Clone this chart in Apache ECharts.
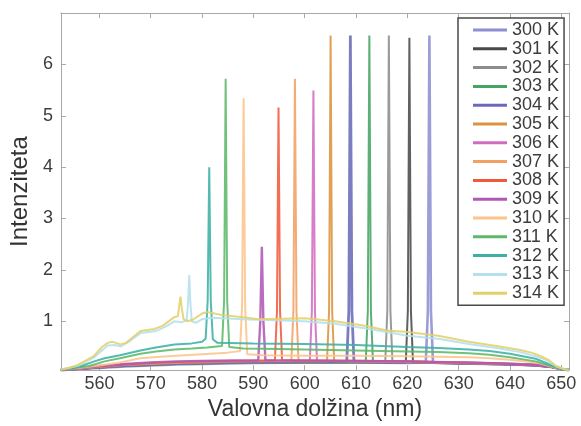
<!DOCTYPE html>
<html>
<head>
<meta charset="utf-8">
<script src="https://cdn.jsdelivr.net/npm/echarts@6/dist/echarts.min.js"></script>
<style>
html,body{margin:0;padding:0;background:#fff;}
#chart{width:581px;height:426px;}
</style>
</head>
<body>
<div id="chart"></div>
<script>
const temps = ['300 K','301 K','302 K','303 K','304 K','305 K','306 K','307 K','308 K','309 K','310 K','311 K','312 K','313 K','314 K'];
const colors = ['#8e8ed2','#4a4a4a','#8c8c8c','#46a462','#6a6ab8','#dc9440','#d06cc0','#f2a064','#f05a3c','#b158b6','#fcc48c','#5cb868','#3cb0a4','#b4e0ec','#e2d06c'];
const widths = [2.6,2,2,2,2.8,2,2,2,2,2.4,2,2,2,2,2];
const xTicks = [560,570,580,590,600,610,620,630,640,650];
const yTicks = [1,2,3,4,5,6];

const s300 = [[552.5,0.05],[556,0.07],[560,0.09],[565,0.12],[570,0.14],[575,0.16],[580,0.17],[590,0.19],[600,0.2],[610,0.2],[620,0.19],[623.6,0.2],[624.0,1.2],[624.3,6.56],[624.6,1.2],[625,0.2],[630,0.18],[635,0.17],[640,0.16],[645,0.14],[648,0.11],[650,0.07],[651.5,0.05]];
const s301 = [[552.5,0.05],[556,0.07],[560,0.1],[565,0.13],[570,0.15],[575,0.17],[580,0.18],[590,0.2],[600,0.2],[610,0.2],[619.7,0.2],[620.1,1.2],[620.4,6.52],[620.7,1.2],[621.1,0.2],[625,0.19],[630,0.18],[635,0.17],[640,0.16],[645,0.14],[648,0.11],[650,0.07],[651.5,0.05]];
const s302 = [[552.5,0.05],[556,0.08],[560,0.1],[565,0.13],[570,0.15],[575,0.17],[580,0.19],[590,0.2],[600,0.21],[610,0.2],[615.7,0.21],[616.1,1.2],[616.4,6.56],[616.7,1.2],[617.1,0.21],[620,0.2],[625,0.19],[630,0.18],[635,0.17],[640,0.16],[645,0.14],[648,0.11],[650,0.07],[651.5,0.05]];
const s303 = [[552.5,0.05],[556,0.08],[560,0.11],[565,0.14],[570,0.16],[575,0.18],[580,0.19],[590,0.21],[600,0.21],[611.9,0.21],[612.3,1.2],[612.6,6.56],[612.9,1.2],[613.3,0.22],[620,0.21],[625,0.2],[630,0.19],[635,0.18],[640,0.17],[645,0.15],[648,0.12],[650,0.07],[651.5,0.05]];
const s304 = [[552.5,0.05],[556,0.08],[560,0.11],[565,0.14],[570,0.16],[575,0.18],[580,0.2],[590,0.21],[600,0.22],[608.2,0.22],[608.6,1.2],[608.9,6.56],[609.2,1.2],[609.6,0.22],[615,0.21],[620,0.21],[625,0.2],[630,0.19],[635,0.18],[640,0.17],[645,0.15],[648,0.12],[650,0.07],[651.5,0.05]];
const s305 = [[552.5,0.05],[556,0.08],[560,0.11],[565,0.15],[570,0.17],[575,0.19],[580,0.2],[590,0.22],[600,0.22],[604.35,0.22],[604.75,1.2],[605.05,6.56],[605.35,1.2],[605.75,0.22],[610,0.22],[620,0.21],[625,0.2],[630,0.19],[635,0.18],[640,0.17],[645,0.15],[648,0.12],[650,0.07],[651.5,0.05]];
const s306 = [[552.5,0.05],[556,0.08],[560,0.12],[565,0.15],[570,0.18],[575,0.2],[580,0.21],[590,0.22],[601.0,0.23],[601.4,1.2],[601.7,5.49],[602.0,1.2],[602.4,0.23],[610,0.22],[620,0.21],[625,0.2],[630,0.19],[635,0.18],[640,0.17],[645,0.15],[648,0.12],[650,0.07],[651.5,0.05]];
const s307 = [[552.5,0.05],[556,0.08],[560,0.12],[565,0.16],[570,0.18],[575,0.2],[580,0.22],[590,0.23],[597.4,0.23],[597.8,1.2],[598.1,5.72],[598.4,1.2],[598.8,0.23],[605,0.23],[610,0.22],[620,0.22],[625,0.21],[630,0.2],[635,0.19],[640,0.17],[645,0.15],[648,0.12],[650,0.07],[651.5,0.05]];
const s308 = [[552.5,0.05],[556,0.09],[560,0.12],[565,0.16],[570,0.19],[575,0.21],[580,0.22],[590,0.23],[594.2,0.24],[594.6,1.2],[594.9,5.16],[595.2,1.2],[595.6,0.24],[600,0.23],[610,0.23],[620,0.22],[625,0.21],[630,0.2],[635,0.19],[640,0.17],[645,0.15],[648,0.12],[650,0.07],[651.5,0.05]];
const s309 = [[552.5,0.05],[556,0.09],[560,0.13],[565,0.17],[570,0.2],[575,0.22],[580,0.23],[586,0.24],[590.95,0.24],[591.35,1.0],[591.65,2.45],[591.95,1.0],[592.35,0.24],[600,0.24],[610,0.23],[620,0.22],[625,0.21],[630,0.2],[635,0.19],[640,0.17],[645,0.15],[648,0.12],[650,0.07],[651.5,0.05]];
const s310 = [[552.5,0.06],[556,0.09],[560,0.14],[564,0.2],[568,0.28],[572,0.31],[575,0.33],[580,0.36],[585,0.39],[587.4,0.42],[587.8,1.3],[588.1,5.34],[588.4,1.3],[588.8,0.36],[592,0.34],[600,0.33],[610,0.33],[620,0.32],[626,0.31],[632,0.3],[636,0.28],[640,0.25],[645,0.2],[648,0.12],[650,0.07],[651.5,0.05]];
const s311 = [[552.5,0.06],[555,0.09],[558,0.13],[561,0.22],[564,0.28],[568,0.37],[571,0.41],[574.6,0.45],[578,0.47],[581,0.49],[583.9,0.52],[584.3,1.4],[584.6,5.72],[584.9,1.4],[585.3,0.5],[588,0.47],[595,0.46],[600,0.45],[610,0.43],[620,0.41],[626,0.4],[632,0.38],[636,0.35],[640,0.3],[645,0.22],[648,0.13],[650,0.07],[651.5,0.05]];
const s312 = [[552.5,0.06],[555,0.09],[557,0.15],[559,0.22],[561,0.28],[564,0.34],[568,0.43],[571,0.49],[574.6,0.55],[578,0.57],[580,0.6],[580.7,0.66],[581.1,1.4],[581.4,4.0],[581.7,1.4],[582.1,0.65],[583,0.58],[590,0.57],[600,0.56],[610,0.54],[620,0.5],[626,0.48],[632,0.45],[636,0.42],[640,0.37],[645,0.27],[648,0.15],[650,0.07],[651.5,0.05]];
const s313 = [[552.5,0.06],[554,0.09],[556,0.14],[559,0.3],[561.6,0.53],[563,0.54],[564.2,0.51],[566,0.62],[568,0.77],[571,0.81],[573,0.9],[574.6,1.0],[576,0.98],[577.0,1.02],[577.3,1.4],[577.5,1.9],[577.7,1.4],[578.0,1.0],[578.8,0.97],[580,1.04],[582,1.07],[588,1.04],[600,1.0],[606,0.95],[612,0.86],[616,0.79],[620,0.72],[626,0.66],[632,0.56],[638,0.47],[642,0.4],[645,0.32],[647,0.25],[649,0.12],[650.5,0.07],[651.5,0.05]];
const s314 = [[552.5,0.06],[554,0.09],[555.8,0.15],[558.9,0.32],[560.5,0.5],[561.6,0.58],[562.6,0.6],[564.1,0.55],[565.2,0.58],[568,0.81],[570.7,0.85],[572.3,0.91],[574.6,1.08],[575.3,1.1],[575.55,1.3],[575.8,1.48],[576.05,1.25],[576.4,1.04],[577.2,1.0],[578.2,1.03],[580,1.15],[581,1.18],[584,1.12],[588,1.08],[591,1.04],[600,1.06],[606,1.0],[612,0.91],[616,0.82],[620,0.79],[626,0.72],[632,0.6],[638,0.51],[642,0.44],[644.5,0.38],[646,0.32],[647.5,0.25],[649,0.13],[650.5,0.07],[651.5,0.05]];

const seriesData = [s300,s301,s302,s303,s304,s305,s306,s307,s308,s309,s310,s311,s312,s313,s314];

const chart = echarts.init(document.getElementById('chart'), null, {renderer:'canvas'});
const axisColor = '#a8a8a8';
const fam = 'Liberation Sans, Arial, sans-serif';
const labelFont = {fontFamily:fam, fontSize:18, color:'#3c3c3c'};

const option = {
  animation:false,
  backgroundColor:'#fff',
  grid:{left:59, right:12, top:13, bottom:49, containLabel:false},
  legend:{
    orient:'vertical', left:458, top:18,
    padding:[3,5,3,15],
    borderColor:'#4a4a4a', borderWidth:1.5, backgroundColor:'#fff',
    itemWidth:34, itemHeight:18, itemGap:0.8,
    textStyle:{fontFamily:fam, fontSize:18, color:'#3c3c3c', lineHeight:18},
    data:temps.map((t,i)=>({name:t, icon:'path://M0,0 L34,0 L34,3 L0,3 Z', itemStyle:{color:colors[i]}})),
    z:10
  },
  xAxis:[{
    type:'value', min:552.5, max:651.5, position:'bottom',
    axisLine:{show:true, onZero:false, lineStyle:{color:axisColor, width:1}},
    axisTick:{show:true, inside:true, length:5, customValues:xTicks, lineStyle:{color:axisColor}},
    axisLabel:Object.assign({customValues:xTicks, margin:5}, labelFont),
    splitLine:{show:false},
    name:'Valovna dolžina (nm)', nameLocation:'middle', nameGap:22,
    nameTextStyle:{fontFamily:fam, fontSize:23, color:'#333', verticalAlign:'top'}
  },{
    type:'value', min:552.5, max:651.5, position:'top',
    axisLine:{show:true, onZero:false, lineStyle:{color:axisColor, width:1}},
    axisTick:{show:true, inside:true, length:5, customValues:xTicks, lineStyle:{color:axisColor}},
    axisLabel:{show:false}, splitLine:{show:false}
  }],
  yAxis:[{
    type:'value', min:0.05, max:7, position:'left',
    axisLine:{show:true, onZero:false, lineStyle:{color:axisColor, width:1}},
    axisTick:{show:true, inside:true, length:5, customValues:yTicks, lineStyle:{color:axisColor}},
    axisLabel:Object.assign({customValues:yTicks, margin:8}, labelFont),
    splitLine:{show:false},
    name:'Intenziteta', nameLocation:'middle', nameGap:20,
    nameTextStyle:{fontFamily:fam, fontSize:24, color:'#333'}
  },{
    type:'value', min:0.05, max:7, position:'right',
    axisLine:{show:true, onZero:false, lineStyle:{color:axisColor, width:1}},
    axisTick:{show:true, inside:true, length:5, customValues:yTicks, lineStyle:{color:axisColor}},
    axisLabel:{show:false}, splitLine:{show:false}
  }],
  series: seriesData.map((d,i)=>({
    name:temps[i], type:'line', data:d, xAxisIndex:0, yAxisIndex:0,
    symbol:'none', showSymbol:false, smooth:false,
    color:colors[i],
    lineStyle:{color:colors[i], width:widths[i], opacity:0.88},
    emphasis:{disabled:true}, silent:true
  }))
};
chart.setOption(option);
</script>
</body>
</html>
